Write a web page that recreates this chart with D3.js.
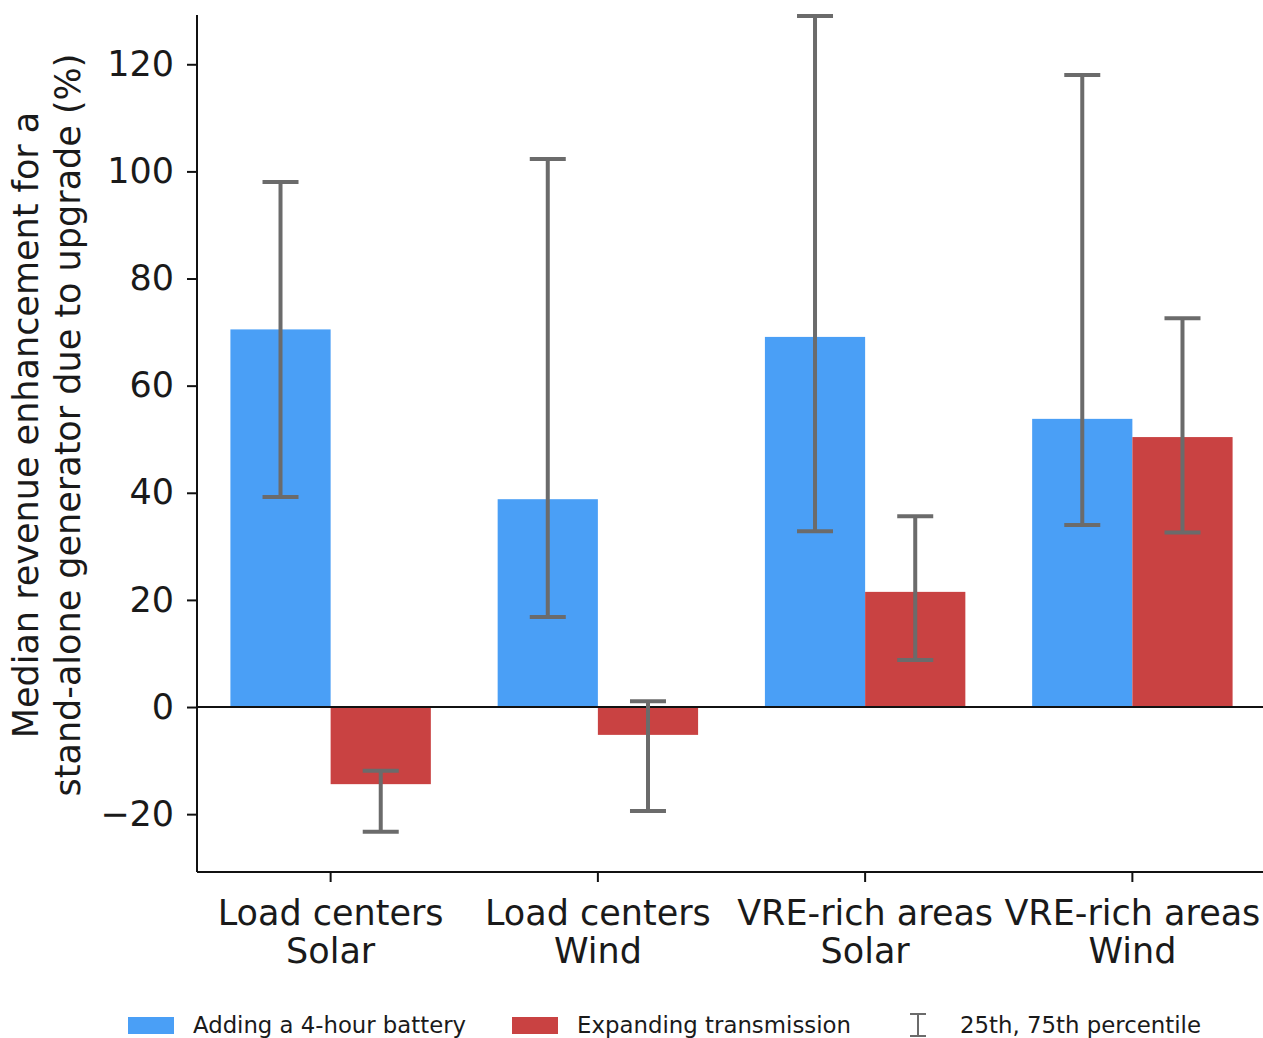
<!DOCTYPE html>
<html>
<head>
<meta charset="utf-8">
<script src="https://cdn.jsdelivr.net/npm/d3@7"></script>
<style>
  body { margin: 0; background: #fff; }
  svg text { font-family: "DejaVu Sans", sans-serif; fill: #1a1a1a; }
</style>
</head>
<body>
<div id="chart"></div>
<script>
const categories = ["Load centers|Solar", "Load centers|Wind", "VRE-rich areas|Solar", "VRE-rich areas|Wind"];
const series = ["Adding a 4-hour battery", "Expanding transmission"];
const batteryMedian = [70.5, 38.8, 69.1, 53.8];
const batteryLow = [39.2, 16.8, 32.8, 34.0];
const batteryHigh = [98.0, 102.3, 129.0, 118.0];
const transMedian = [-14.4, -5.2, 21.5, 50.4];
const transLow = [-23.3, -19.4, 8.8, 32.6];
const transHigh = [-11.9, 1.1, 35.6, 72.6];
const yTicks = [-20, 0, 20, 40, 60, 80, 100, 120];
const colors = ["#4a9ff6", "#c94242"];

const W = 1263, H = 1038;
const margin = {left: 197, right: 0, top: 15, bottom: 166};

const svg = d3.select('#chart').append('svg')
    .attr('width', W).attr('height', H);

const x = d3.scaleBand()
    .domain(categories)
    .range([margin.left, W + 3])
    .paddingInner(0.25).paddingOuter(0.125);

const x1 = d3.scaleBand()
    .domain(series)
    .range([0, x.bandwidth()]);

const y = d3.scaleLinear()
    .domain([-30.8, 129.2])
    .range([H - margin.bottom, margin.top]);

const rows = [];
categories.forEach((c, i) => {
    rows.push({cat: c, s: series[0], v: batteryMedian[i], lo: batteryLow[i], hi: batteryHigh[i], col: colors[0]});
    rows.push({cat: c, s: series[1], v: transMedian[i], lo: transLow[i], hi: transHigh[i], col: colors[1]});
});

// bars
svg.append('g').selectAll('rect')
    .data(rows)
    .enter().append('rect')
    .attr('x', d => x(d.cat) + x1(d.s))
    .attr('width', x1.bandwidth())
    .attr('y', d => y(Math.max(0, d.v)))
    .attr('height', d => Math.abs(y(d.v) - y(0)))
    .attr('fill', d => d.col);

// zero line
svg.append('line')
    .attr('x1', margin.left).attr('x2', W)
    .attr('y1', y(0)).attr('y2', y(0))
    .attr('stroke', '#111').attr('stroke-width', 2);

// error bars
const eb = svg.append('g').attr('stroke', '#6b6b6b').attr('stroke-width', 4);
rows.forEach(d => {
    const cx = x(d.cat) + x1(d.s) + x1.bandwidth() / 2;
    eb.append('line').attr('x1', cx).attr('x2', cx).attr('y1', y(d.lo)).attr('y2', y(d.hi));
    [d.lo, d.hi].forEach(v => {
        eb.append('line').attr('x1', cx - 18).attr('x2', cx + 18).attr('y1', y(v)).attr('y2', y(v));
    });
});

// y axis
const yAxis = svg.append('g')
    .attr('transform', `translate(${margin.left},0)`)
    .call(d3.axisLeft(y).tickValues(yTicks).tickSize(10).tickPadding(13)
        .tickFormat(d => d < 0 ? '\u2212' + Math.abs(d) : d));
yAxis.select('.domain').attr('stroke', '#111').attr('stroke-width', 2).attr('d', `M0,${y.range()[0]}V${y.range()[1]}`);
yAxis.selectAll('.tick line').attr('stroke', '#111').attr('stroke-width', 2);
yAxis.selectAll('.tick text').style('font-size', '35px').attr('fill', '#1a1a1a');

// x axis
const xAxis = svg.append('g')
    .attr('transform', `translate(0,${H - margin.bottom})`)
    .call(d3.axisBottom(x).tickSize(10).tickFormat(''));
xAxis.select('.domain').attr('stroke', '#111').attr('stroke-width', 2).attr('d', `M${margin.left},0H${W}`);
xAxis.selectAll('.tick line').attr('stroke', '#111').attr('stroke-width', 2);
xAxis.selectAll('.tick').each(function(d) {
    const parts = d.split('|');
    const t = d3.select(this).append('text')
        .attr('text-anchor', 'middle')
        .style('font-size', '35px').attr('fill', '#1a1a1a');
    t.append('tspan').attr('x', 0).attr('y', 53).text(parts[0]);
    t.append('tspan').attr('x', 0).attr('y', 91).text(parts[1]);
});

// y label
const yl = svg.append('text')
    .attr('transform', `translate(38,425) rotate(-90)`)
    .attr('text-anchor', 'middle')
    .style('font-size', '35px');
yl.append('tspan').attr('x', 0).attr('y', 0).text('Median revenue enhancement for a');
yl.append('tspan').attr('x', 0).attr('y', 42).text('stand-alone generator due to upgrade (%)');

// legend
const lg = svg.append('g').style('font-family', '"DejaVu Sans Condensed", "DejaVu Sans", sans-serif');
const legendItems = [
    {label: series[0], x: 128, col: colors[0], len: 273},
    {label: series[1], x: 512, col: colors[1], len: 274}
];
legendItems.forEach(it => {
    lg.append('rect').attr('x', it.x).attr('y', 1017).attr('width', 46).attr('height', 17).attr('fill', it.col);
    lg.append('text').attr('x', it.x + 65).attr('y', 1033)
        .style('font-size', '23px')
        .attr('textLength', it.len).attr('lengthAdjust', 'spacingAndGlyphs')
        .text(it.label);
});
const ix = 918;
const ig = lg.append('g').attr('stroke', '#6b6b6b').attr('stroke-width', 2);
ig.append('line').attr('x1', ix).attr('x2', ix).attr('y1', 1014).attr('y2', 1036);
ig.append('line').attr('x1', ix - 8).attr('x2', ix + 8).attr('y1', 1014).attr('y2', 1014);
ig.append('line').attr('x1', ix - 8).attr('x2', ix + 8).attr('y1', 1036).attr('y2', 1036);
lg.append('text').attr('x', 960).attr('y', 1033)
    .style('font-size', '23px')
    .attr('textLength', 241).attr('lengthAdjust', 'spacingAndGlyphs')
    .text('25th, 75th percentile');
</script>
</body>
</html>
